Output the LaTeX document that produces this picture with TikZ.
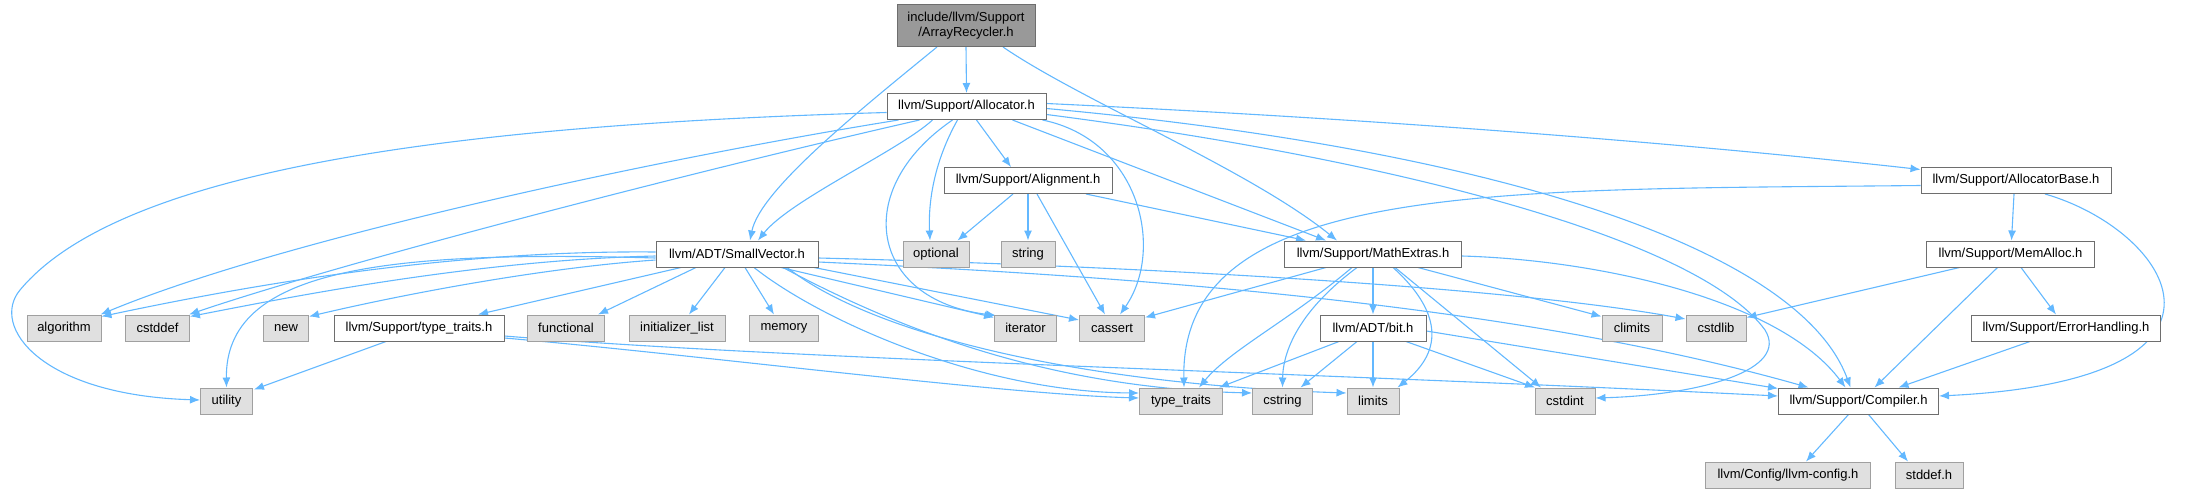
\documentclass[tikz,border=0pt]{standalone}
\usepackage{fontspec}
\setmainfont{Liberation Sans}
\usetikzlibrary{arrows.meta,calc}
\pgfdeclarelayer{bg}
\pgfsetlayers{bg,main}
\definecolor{edgec}{HTML}{63B8FF}
\definecolor{wborder}{HTML}{6E6E6E}
\definecolor{gborder}{HTML}{A0A0A0}
\definecolor{gfill}{HTML}{E0E0E0}
\definecolor{rfill}{HTML}{999999}
\begin{document}
\begin{tikzpicture}[x=1pt,y=-1pt,
  nbase/.style={rectangle, inner sep=0pt, minimum height=26pt, font=\fontsize{13}{15}\selectfont, line width=1pt, text=black},
  wbox/.style={nbase, draw=wborder, fill=white},
  gbox/.style={nbase, draw=gborder, fill=gfill},
  rbox/.style={nbase, draw=wborder, fill=rfill, align=center, minimum height=42pt},
  dep/.style={draw=edgec, line width=1.1pt, -{Latex[length=10pt,width=8pt]}}]
\useasboundingbox (0,0) rectangle (2191,493);

% nodes
\node[rbox, minimum width=138pt] (AR) at (966,25.5) {include/llvm/Support\\/ArrayRecycler.h};
\node[wbox, minimum width=159pt] (AL) at (966.5,106.5) {llvm/Support/Allocator.h};
\node[wbox, minimum width=168pt] (AN) at (1028,180.5) {llvm/Support/Alignment.h};
\node[wbox, minimum width=190pt] (AB) at (2016,180.5) {llvm/Support/AllocatorBase.h};
\node[wbox, minimum width=162pt] (SV) at (737,254) {llvm/ADT/SmallVector.h};
\node[gbox, minimum width=66pt] (opt) at (936,254) {optional};
\node[gbox, minimum width=54pt] (str) at (1028,254) {string};
\node[wbox, minimum width=177pt] (ME) at (1373,254) {llvm/Support/MathExtras.h};
\node[wbox, minimum width=168pt] (MA) at (2010.5,254) {llvm/Support/MemAlloc.h};
\node[gbox, minimum width=74pt] (alg) at (64,328) {algorithm};
\node[gbox, minimum width=64pt] (csd) at (157.5,328) {cstddef};
\node[gbox, minimum width=45pt] (new) at (286,328) {new};
\node[wbox, minimum width=170pt] (STT) at (419,328) {llvm/Support/type\_traits.h};
\node[gbox, minimum width=77pt] (fun) at (566,328) {functional};
\node[gbox, minimum width=96pt] (ini) at (677,328) {initializer\_list};
\node[gbox, minimum width=69pt] (mem) at (784,328) {memory};
\node[gbox, minimum width=62pt] (itr) at (1025.5,328) {iterator};
\node[gbox, minimum width=65pt] (cas) at (1112,328) {cassert};
\node[wbox, minimum width=106pt] (bit) at (1373,328) {llvm/ADT/bit.h};
\node[gbox, minimum width=60pt] (cli) at (1632,328) {climits};
\node[gbox, minimum width=60pt] (cstl) at (1716,328) {cstdlib};
\node[wbox, minimum width=189pt] (EH) at (2066,328) {llvm/Support/ErrorHandling.h};
\node[gbox, minimum width=52pt] (uti) at (226.5,401) {utility};
\node[gbox, minimum width=83pt] (tt) at (1181,401) {type\_traits};
\node[gbox, minimum width=60pt] (cstr) at (1282.5,401) {cstring};
\node[gbox, minimum width=52pt] (lim) at (1373,401) {limits};
\node[gbox, minimum width=60pt] (cint) at (1565,401) {cstdint};
\node[wbox, minimum width=160pt] (CP) at (1858.5,401) {llvm/Support/Compiler.h};
\node[gbox, minimum width=165pt] (cfg) at (1788,475) {llvm/Config/llvm-config.h};
\node[gbox, minimum width=68pt] (sdd) at (1929,475) {stddef.h};

\begin{pgfonlayer}{bg}
% ArrayRecycler
\draw[dep] (AR.south) -- (AL.north);
\draw[dep] ($(AR.south)+(-29,0)$) .. controls (860,110) and (760,190) .. ($(SV.north)+(13,0)$);
\draw[dep] ($(AR.south)+(37,0)$) .. controls (1080,100) and (1250,170) .. ($(ME.north)+(-36,0)$);
% Allocator
\draw[dep] ($(AL.south)+(-34,0)$) .. controls (900,150) and (790,200) .. ($(SV.north)+(21,0)$);
\draw[dep] ($(AL.south)+(10,0)$) -- ($(AN.north)+(-17,0)$);
\draw[dep] ($(AL.south)+(-9,0)$) .. controls (935,160) and (928,200) .. ($(opt.north)+(-6,0)$);
\draw[dep] ($(AL.south)+(-14,0)$) .. controls (850,190) and (870,300) .. ($(itr.north west)+(2,1)$);
\draw[dep] ($(AL.south east)+(-4,0)$) .. controls (1140,140) and (1165,250) .. ($(cas.north)+(8,0)$);
\draw[dep] ($(AL.south)+(46,0)$) -- ($(ME.north)+(-47,0)$);
\draw[dep] ($(AL.east)+(0,-3)$) .. controls (1400,120) and (1700,145) .. ($(AB.west)+(0,-11)$);
\draw[dep] ($(AL.east)+(0,2)$) .. controls (1500,150) and (1800,250) .. ($(CP.north)+(-8,0)$);
\draw[dep] ($(AL.east)+(0,8)$) .. controls (1400,160) and (1700,240) .. (1765,330) .. controls (1790,370) and (1700,395) .. ($(cint.east)+(0,-3)$);
\draw[dep] ($(AL.south)+(-68,0)$) .. controls (650,160) and (280,240) .. ($(alg.north east)+(-1,0)$);
\draw[dep] ($(AL.south)+(-47,0)$) .. controls (700,170) and (350,260) .. ($(csd.north east)+(-1,0)$);
\draw[dep] ($(AL.west)+(0,6)$) .. controls (450,125) and (120,170) .. (20,290) .. controls (-10,326) and (40,395) .. ($(uti.west)+(0,-1)$);
% Alignment
\draw[dep] ($(AN.south)+(-15,0)$) -- ($(opt.north east)+(-12,0)$);
\draw[dep] (AN.south) -- (str.north);
\draw[dep] ($(AN.south)+(9,0)$) -- ($(cas.north)+(-7,0)$);
\draw[dep] ($(AN.south)+(58,0)$) -- ($(ME.north)+(-67,0)$);
% AllocatorBase
\draw[dep] ($(AB.south)+(-2,0)$) -- ($(MA.north)+(1,0)$);
\draw[dep] ($(AB.south)+(29,0)$) .. controls (2170,230) and (2270,380) .. ($(CP.east)+(0,-5)$);
\draw[dep] ($(AB.west)+(0,5)$) .. controls (1500,190) and (1180,180) .. ($(tt.north)+(3,0)$);
% MemAlloc
\draw[dep] ($(MA.south)+(-51,0)$) -- ($(cstl.north east)+(0,3)$);
\draw[dep] ($(MA.south)+(-13,0)$) -- ($(CP.north)+(16,0)$);
\draw[dep] ($(MA.south)+(10.5,0)$) -- ($(EH.north)+(-10,0)$);
\draw[dep] ($(EH.south)+(-36,0)$) -- ($(CP.north)+(40,0)$);
% SmallVector
\draw[dep] ($(SV.west)+(0,-2)$) .. controls (450,250) and (250,285) .. ($(alg.north east)+(0,2)$);
\draw[dep] ($(SV.west)+(0,2)$) .. controls (480,260) and (300,295) .. ($(csd.north east)+(0,2)$);
\draw[dep] ($(SV.west)+(0,6)$) .. controls (540,268) and (400,295) .. ($(new.north east)+(0,2)$);
\draw[dep] ($(SV.west)+(0,4)$) .. controls (380,250) and (225,270) .. (uti.north);
\draw[dep] ($(SV.south)+(-56,0)$) -- ($(STT.north)+(59,0)$);
\draw[dep] ($(SV.south)+(-41,0)$) -- ($(fun.north)+(32,0)$);
\draw[dep] ($(SV.south)+(-12,0)$) -- ($(ini.north)+(12,0)$);
\draw[dep] ($(SV.south)+(8,0)$) -- ($(mem.north)+(-10,0)$);
\draw[dep] ($(SV.south)+(17,0)$) .. controls (820,320) and (980,392) .. ($(tt.west)+(0,-8)$);
\draw[dep] ($(SV.south)+(44,0)$) -- ($(itr.north west)+(0,3)$);
\draw[dep] ($(SV.south)+(77,0)$) -- ($(cas.west)+(0,-8)$);
\draw[dep] ($(SV.south)+(46,0)$) .. controls (900,330) and (1050,388) .. ($(cstr.west)+(0,-8)$);
\draw[dep] ($(SV.south)+(50,0)$) .. controls (880,340) and (1100,385) .. ($(lim.west)+(0,-8)$);
\draw[dep] ($(SV.east)+(0,4)$) .. controls (1100,265) and (1500,285) .. ($(cstl.west)+(0,-9)$);
\draw[dep] ($(SV.east)+(0,8)$) .. controls (1100,275) and (1500,300) .. ($(CP.north)+(-50,0)$);
% type_traits.h
\draw[dep] ($(STT.south)+(-33,0)$) -- ($(uti.north east)+(1,2)$);
\draw[dep] ($(STT.east)+(0,10)$) .. controls (700,355) and (1000,394) .. ($(tt.west)+(0,-3)$);
\draw[dep] ($(STT.east)+(0,8)$) .. controls (800,360) and (1300,372) .. ($(CP.west)+(0,-5)$);
% MathExtras
\draw[dep] ($(ME.south)+(-47,0)$) -- ($(cas.north east)+(0,3)$);
\draw[dep] ($(ME.south)+(-21,0)$) .. controls (1290,320) and (1230,350) .. ($(tt.north)+(18,0)$);
\draw[dep] ($(ME.south)+(-16,0)$) .. controls (1300,310) and (1283,350) .. (cstr.north);
\draw[dep] (ME.south) -- (bit.north);
\draw[dep] ($(ME.south)+(20,0)$) .. controls (1440,310) and (1445,350) .. ($(lim.north east)+(-2,0)$);
\draw[dep] ($(ME.south)+(22,0)$) -- ($(cint.north)+(-24,0)$);
\draw[dep] ($(ME.south)+(45,0)$) -- ($(cli.north west)+(0,2)$);
\draw[dep] ($(ME.east)+(0,2)$) .. controls (1600,260) and (1780,300) .. ($(CP.north)+(-13,0)$);
% bit.h
\draw[dep] ($(bit.south)+(-34,0)$) -- ($(tt.north)+(38,0)$);
\draw[dep] ($(bit.south)+(-16,0)$) -- ($(cstr.north)+(18,0)$);
\draw[dep] (bit.south) -- (lim.north);
\draw[dep] ($(bit.south)+(33,0)$) -- ($(cint.north)+(-30,0)$);
\draw[dep] ($(bit.east)+(0,3)$) -- ($(CP.north west)+(0,1)$);
% Compiler
\draw[dep] ($(CP.south)+(-10,0)$) -- ($(cfg.north)+(18,0)$);
\draw[dep] ($(CP.south)+(10,0)$) -- ($(sdd.north)+(-21,0)$);
\end{pgfonlayer}
\end{tikzpicture}
\end{document}
